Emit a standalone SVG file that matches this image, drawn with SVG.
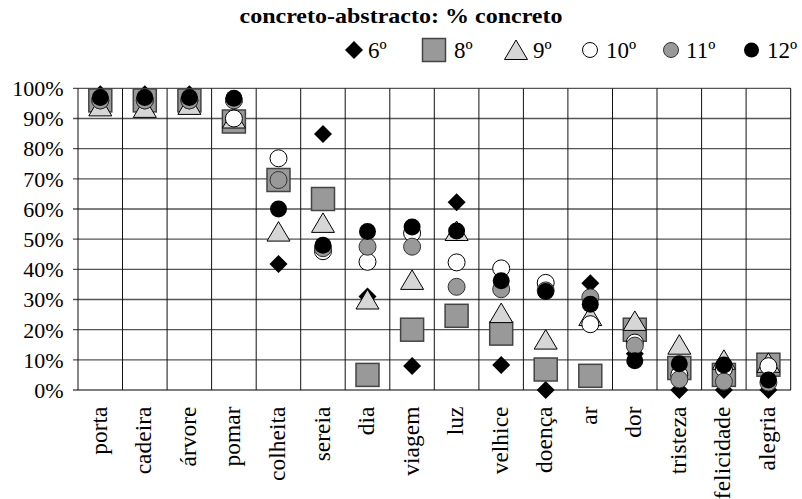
<svg xmlns="http://www.w3.org/2000/svg" xmlns:xlink="http://www.w3.org/1999/xlink" width="802" height="499" viewBox="0 0 802 499">
<style>
text{font-family:"Liberation Serif","Times New Roman",serif;fill:#000}
.t{font-size:22px;font-weight:bold}
.ax{font-size:22px}
.xl{font-size:23.5px}
.lg{font-size:23px}
.hg{stroke:#555;stroke-width:1.3}
.vg{stroke:#111;stroke-width:1}
</style>
<defs>
<path id="dm" d="M0,-9 L9,0 L0,9 L-9,0 Z" fill="#000"/>
<rect id="sq" x="-11.5" y="-11.5" width="23" height="23" fill="#999" stroke="#444" stroke-width="1.5"/>
<path id="tr" d="M0,-10 L11.5,9.5 L-11.5,9.5 Z" fill="#d6d6d6" stroke="#000" stroke-width="1"/>
<circle id="cw" r="8.5" fill="#fff" stroke="#000" stroke-width="1"/>
<circle id="cg" r="8.5" fill="#999" stroke="#333" stroke-width="1"/>
<circle id="cb" r="8.5" fill="#000"/>
<circle id="lcw" r="7.5" fill="#fff" stroke="#000" stroke-width="1"/>
<circle id="lcg" r="7.5" fill="#999" stroke="#333" stroke-width="1"/>
<circle id="lcb" r="7.5" fill="#000"/>
</defs>
<rect width="802" height="499" fill="#fff"/>
<text class="t" x="401" y="23" text-anchor="middle" textLength="323" lengthAdjust="spacingAndGlyphs">concreto-abstracto: % concreto</text>
<g id="legend">
<use xlink:href="#dm" x="354" y="50"/><text class="lg" x="368" y="58">6º</text>
<use xlink:href="#sq" x="434" y="50"/><text class="lg" x="454" y="58">8º</text>
<use xlink:href="#tr" x="516" y="50"/><text class="lg" x="533" y="58">9º</text>
<use xlink:href="#lcw" x="590" y="50"/><text class="lg" x="606" y="58">10º</text>
<use xlink:href="#lcg" x="671" y="50"/><text class="lg" x="686" y="58">11º</text>
<use xlink:href="#lcb" x="751.5" y="50"/><text class="lg" x="767" y="58">12º</text>
</g>
<g id="grid">
<line class="hg" x1="73" y1="390" x2="791" y2="390"/>
<line class="hg" x1="73" y1="359.8" x2="791" y2="359.8"/>
<line class="hg" x1="73" y1="329.7" x2="791" y2="329.7"/>
<line class="hg" x1="73" y1="299.5" x2="791" y2="299.5"/>
<line class="hg" x1="73" y1="269.3" x2="791" y2="269.3"/>
<line class="hg" x1="73" y1="239.2" x2="791" y2="239.2"/>
<line class="hg" x1="73" y1="209" x2="791" y2="209"/>
<line class="hg" x1="73" y1="178.8" x2="791" y2="178.8"/>
<line class="hg" x1="73" y1="148.6" x2="791" y2="148.6"/>
<line class="hg" x1="73" y1="118.5" x2="791" y2="118.5"/>
<line class="hg" x1="73" y1="88.3" x2="791" y2="88.3"/>
<line class="vg" x1="78" y1="88.3" x2="78" y2="390"/>
<line class="vg" x1="122.5" y1="88.3" x2="122.5" y2="390"/>
<line class="vg" x1="167.1" y1="88.3" x2="167.1" y2="390"/>
<line class="vg" x1="211.6" y1="88.3" x2="211.6" y2="390"/>
<line class="vg" x1="256.2" y1="88.3" x2="256.2" y2="390"/>
<line class="vg" x1="300.7" y1="88.3" x2="300.7" y2="390"/>
<line class="vg" x1="345.2" y1="88.3" x2="345.2" y2="390"/>
<line class="vg" x1="389.8" y1="88.3" x2="389.8" y2="390"/>
<line class="vg" x1="434.3" y1="88.3" x2="434.3" y2="390"/>
<line class="vg" x1="478.9" y1="88.3" x2="478.9" y2="390"/>
<line class="vg" x1="523.4" y1="88.3" x2="523.4" y2="390"/>
<line class="vg" x1="567.9" y1="88.3" x2="567.9" y2="390"/>
<line class="vg" x1="612.5" y1="88.3" x2="612.5" y2="390"/>
<line class="vg" x1="657" y1="88.3" x2="657" y2="390"/>
<line class="vg" x1="701.6" y1="88.3" x2="701.6" y2="390"/>
<line class="vg" x1="746.1" y1="88.3" x2="746.1" y2="390"/>
<line class="vg" x1="790.7" y1="88.3" x2="790.7" y2="390"/>
</g>
<g id="yaxis" class="ax" text-anchor="end">
<text x="63.5" y="397.5">0%</text>
<text x="63.5" y="367.5">10%</text>
<text x="63.5" y="337.5">20%</text>
<text x="63.5" y="307">30%</text>
<text x="63.5" y="277">40%</text>
<text x="63.5" y="247">50%</text>
<text x="63.5" y="216.5">60%</text>
<text x="63.5" y="186.5">70%</text>
<text x="63.5" y="156">80%</text>
<text x="63.5" y="126">90%</text>
<text x="63.5" y="96">100%</text>
</g>
<g id="xaxis" class="xl" text-anchor="end">
<text transform="translate(106.8,406.5) rotate(-90)">porta</text>
<text transform="translate(151.3,406.5) rotate(-90)">cadeira</text>
<text transform="translate(195.9,406.5) rotate(-90)">árvore</text>
<text transform="translate(240.4,406.5) rotate(-90)">pomar</text>
<text transform="translate(285,406.5) rotate(-90)">colheita</text>
<text transform="translate(329.5,406.5) rotate(-90)">sereia</text>
<text transform="translate(374,406.5) rotate(-90)">dia</text>
<text transform="translate(418.6,406.5) rotate(-90)">viagem</text>
<text transform="translate(463.1,406.5) rotate(-90)">luz</text>
<text transform="translate(507.7,406.5) rotate(-90)">velhice</text>
<text transform="translate(552.2,406.5) rotate(-90)">doença</text>
<text transform="translate(596.8,406.5) rotate(-90)">ar</text>
<text transform="translate(641.3,406.5) rotate(-90)">dor</text>
<text transform="translate(685.8,406.5) rotate(-90)">tristeza</text>
<text transform="translate(730.4,406.5) rotate(-90)">felicidade</text>
<text transform="translate(774.9,406.5) rotate(-90)">alegria</text>
</g>
<g id="s6">
<use xlink:href="#dm" x="100.3" y="94.3"/><use xlink:href="#dm" x="144.8" y="94.3"/><use xlink:href="#dm" x="189.4" y="94.3"/><use xlink:href="#dm" x="233.9" y="101.9"/>
<use xlink:href="#dm" x="278.5" y="263.9"/><use xlink:href="#dm" x="323" y="133.9"/><use xlink:href="#dm" x="367.5" y="296.5"/><use xlink:href="#dm" x="412.1" y="365.9"/>
<use xlink:href="#dm" x="456.6" y="202.3"/><use xlink:href="#dm" x="501.2" y="365"/><use xlink:href="#dm" x="545.7" y="390"/><use xlink:href="#dm" x="590.3" y="283.2"/>
<use xlink:href="#dm" x="634.8" y="353.8"/><use xlink:href="#dm" x="679.3" y="390"/><use xlink:href="#dm" x="723.9" y="390"/><use xlink:href="#dm" x="768.4" y="390"/>
</g>
<g id="s8">
<use xlink:href="#sq" x="100.3" y="100.4"/><use xlink:href="#sq" x="144.8" y="100.4"/><use xlink:href="#sq" x="189.4" y="100.4"/><use xlink:href="#sq" x="233.9" y="121.5"/>
<use xlink:href="#sq" x="278.5" y="180"/><use xlink:href="#sq" x="323" y="199"/><use xlink:href="#sq" x="367.5" y="374.9"/><use xlink:href="#sq" x="412.1" y="329.7"/>
<use xlink:href="#sq" x="456.6" y="315.8"/><use xlink:href="#sq" x="501.2" y="333.6"/><use xlink:href="#sq" x="545.7" y="369.5"/><use xlink:href="#sq" x="590.3" y="375.8"/>
<use xlink:href="#sq" x="634.8" y="329.7"/><use xlink:href="#sq" x="679.3" y="368"/><use xlink:href="#sq" x="723.9" y="374.9"/><use xlink:href="#sq" x="768.4" y="364.7"/>
</g>
<g id="s9">
<use xlink:href="#tr" x="100.3" y="106.4"/><use xlink:href="#tr" x="144.8" y="107.9"/><use xlink:href="#tr" x="189.4" y="104.9"/><use xlink:href="#tr" x="233.9" y="118.5"/>
<use xlink:href="#tr" x="278.5" y="231.6"/><use xlink:href="#tr" x="323" y="222.9"/><use xlink:href="#tr" x="367.5" y="299.5"/><use xlink:href="#tr" x="412.1" y="279.9"/>
<use xlink:href="#tr" x="456.6" y="231"/><use xlink:href="#tr" x="501.2" y="313.1"/><use xlink:href="#tr" x="545.7" y="339.6"/><use xlink:href="#tr" x="590.3" y="316.1"/>
<use xlink:href="#tr" x="634.8" y="320.9"/><use xlink:href="#tr" x="679.3" y="344.7"/><use xlink:href="#tr" x="723.9" y="359.8"/><use xlink:href="#tr" x="768.4" y="362.8"/>
</g>
<g id="s10">
<use xlink:href="#cw" x="100.3" y="100.4"/><use xlink:href="#cw" x="144.8" y="100.4"/><use xlink:href="#cw" x="189.4" y="100.4"/><use xlink:href="#cw" x="233.9" y="118.5"/>
<use xlink:href="#cw" x="278.5" y="158.3"/><use xlink:href="#cw" x="323" y="251.2"/><use xlink:href="#cw" x="367.5" y="261.8"/><use xlink:href="#cw" x="412.1" y="233.1"/>
<use xlink:href="#cw" x="456.6" y="262.4"/><use xlink:href="#cw" x="501.2" y="268.4"/><use xlink:href="#cw" x="545.7" y="282.9"/><use xlink:href="#cw" x="590.3" y="324.2"/>
<use xlink:href="#cw" x="634.8" y="342.6"/><use xlink:href="#cw" x="679.3" y="374.9"/><use xlink:href="#cw" x="723.9" y="368.9"/><use xlink:href="#cw" x="768.4" y="366.2"/>
</g>
<g id="s11">
<use xlink:href="#cg" x="100.3" y="100.4"/><use xlink:href="#cg" x="144.8" y="100.4"/><use xlink:href="#cg" x="189.4" y="100.4"/><use xlink:href="#cg" x="233.9" y="100.4"/>
<use xlink:href="#cg" x="278.5" y="180"/><use xlink:href="#cg" x="323" y="248.2"/><use xlink:href="#cg" x="367.5" y="246.7"/><use xlink:href="#cg" x="412.1" y="246.7"/>
<use xlink:href="#cg" x="456.6" y="286.8"/><use xlink:href="#cg" x="501.2" y="289.2"/><use xlink:href="#cg" x="545.7" y="290.4"/><use xlink:href="#cg" x="590.3" y="297.4"/>
<use xlink:href="#cg" x="634.8" y="345.6"/><use xlink:href="#cg" x="679.3" y="379.4"/><use xlink:href="#cg" x="723.9" y="381.6"/><use xlink:href="#cg" x="768.4" y="382.5"/>
</g>
<g id="s12">
<use xlink:href="#cb" x="100.3" y="97.4"/><use xlink:href="#cb" x="144.8" y="97.4"/><use xlink:href="#cb" x="189.4" y="97.4"/><use xlink:href="#cb" x="233.9" y="98.3"/>
<use xlink:href="#cb" x="278.5" y="209"/><use xlink:href="#cb" x="323" y="245.2"/><use xlink:href="#cb" x="367.5" y="231.6"/><use xlink:href="#cb" x="412.1" y="227.1"/>
<use xlink:href="#cb" x="456.6" y="231"/><use xlink:href="#cb" x="501.2" y="280.8"/><use xlink:href="#cb" x="545.7" y="291.6"/><use xlink:href="#cb" x="590.3" y="304.3"/>
<use xlink:href="#cb" x="634.8" y="360.7"/><use xlink:href="#cb" x="679.3" y="363.8"/><use xlink:href="#cb" x="723.9" y="365"/><use xlink:href="#cb" x="768.4" y="380"/>
</g>
</svg>
